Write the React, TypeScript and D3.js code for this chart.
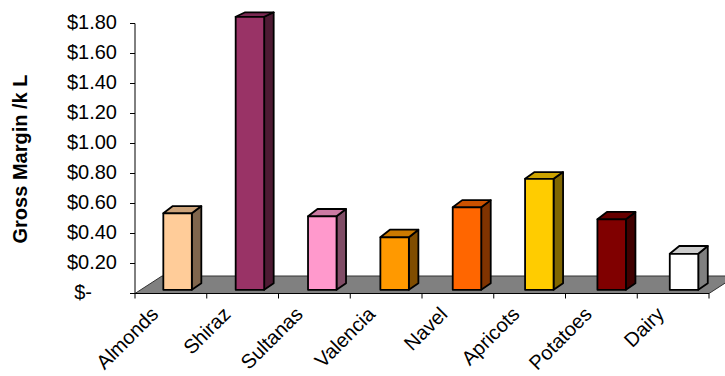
import React from "react";
import * as d3 from "d3";

const categories = ["Almonds", "Shiraz", "Sultanas", "Valencia", "Navel", "Apricots", "Potatoes", "Dairy"];
const values = [0.51, 1.82, 0.49, 0.35, 0.55, 0.74, 0.47, 0.24];
const colors = ["#FFCC99", "#993366", "#FF99CC", "#FF9900", "#FF6600", "#FFCC00", "#800000", "#FFFFFF"];
const tickValues = [0, 0.2, 0.4, 0.6, 0.8, 1.0, 1.2, 1.4, 1.6, 1.8];
const tickLabels = ["$-", "$0.20", "$0.40", "$0.60", "$0.80", "$1.00", "$1.20", "$1.40", "$1.60", "$1.80"];
const yTitle = "Gross Margin /k L";

const W = 725;
const H = 376;
const FONT = "'Liberation Sans', Arial, sans-serif";

function shade(c: string, k: number) {
  const r = d3.rgb(c);
  return d3.rgb(r.r * k, r.g * k, r.b * k).formatHex();
}

export default function App() {
  // front (axis) plane
  const x = d3.scaleBand<string>().domain(categories).range([135, 709]).padding(0);
  const y = d3.scaleLinear().domain([0, 1.8]).range([293.5, 23.5]);
  // bar plane (slightly deeper in the floor)
  const xb = d3.scaleBand<string>().domain(categories).range([141.4, 720.2]).padding(0);
  const yb = d3.scaleLinear().domain([0, 1.8]).range([289.8, 19.8]);
  // label anchors
  const xl = d3.scaleBand<string>().domain(categories).range([123.4, 701.4]).padding(0);

  const floorDx = 27;
  const floorDy = 17.5;
  const barW = 28.5;
  const depthX = 9.5;

  const x0 = x.range()[0];
  const x1 = x.range()[1];
  const yBase = y(0);

  return (
    <svg width={W} height={H} style={{ position: "absolute", left: 0, top: 0, background: "#fff" }}>
      {/* floor */}
      <polygon
        points={`${x0},${yBase} ${x1},${yBase} ${x1 + floorDx},${yBase - floorDy} ${x0 + floorDx},${yBase - floorDy}`}
        fill="#808080"
        stroke="#333"
        strokeWidth={1}
      />
      {/* bars */}
      {categories.map((c, i) => {
        const cx = (xb(c) as number) + xb.bandwidth() / 2;
        const l = cx - barW / 2;
        const r = cx + barW / 2;
        const b = yb(0);
        const t = yb(values[i]);
        const dyTop = 4.5 + Math.max(0, t - 17) * 0.014;
        const dyBot = 6.5;
        const col = colors[i];
        return (
          <g key={c} stroke="#000" strokeWidth={1.8} strokeLinejoin="round">
            <polygon
              points={`${r},${b} ${r + depthX},${b - dyBot} ${r + depthX},${t - dyTop} ${r},${t}`}
              fill={shade(col, 0.5)}
            />
            <polygon
              points={`${l},${t} ${r},${t} ${r + depthX},${t - dyTop} ${l + depthX},${t - dyTop}`}
              fill={shade(col, 0.8)}
            />
            <rect x={l} y={t} width={barW} height={b - t} fill={col} />
          </g>
        );
      })}
      {/* axes */}
      <line x1={x0} x2={x0} y1={y(1.8)} y2={yBase} stroke="#000" strokeWidth={1} />
      <line x1={x0} x2={x1} y1={yBase} y2={yBase} stroke="#000" strokeWidth={1} />
      {tickValues.map((v, i) => (
        <g key={"yt" + i}>
          <line x1={x0 - 5} x2={x0} y1={y(v)} y2={y(v)} stroke="#000" strokeWidth={1} />
          <text
            x={tickLabels[i] === "$-" ? 92 : 117}
            y={y(v) + 5}
            textAnchor="end"
            fontFamily={FONT}
            fontSize={20}
            fill="#000"
          >
            {tickLabels[i]}
          </text>
        </g>
      ))}
      {[...categories.map((c) => x(c) as number), x1].map((px, i) => (
        <line key={"xt" + i} x1={px} x2={px} y1={yBase} y2={yBase + 5} stroke="#000" strokeWidth={1} />
      ))}
      {categories.map((c) => {
        const ax = (xl(c) as number) + xl.bandwidth() / 2;
        return (
          <text
            key={"xl" + c}
            transform={`translate(${ax},${315.5}) rotate(-45)`}
            textAnchor="end"
            fontFamily={FONT}
            fontSize={20}
            fill="#000"
          >
            {c}
          </text>
        );
      })}
      <text
        transform={`translate(27,159) rotate(-90)`}
        textAnchor="middle"
        fontFamily={FONT}
        fontSize={20}
        fontWeight="bold"
        fill="#000"
      >
        {yTitle}
      </text>
    </svg>
  );
}
